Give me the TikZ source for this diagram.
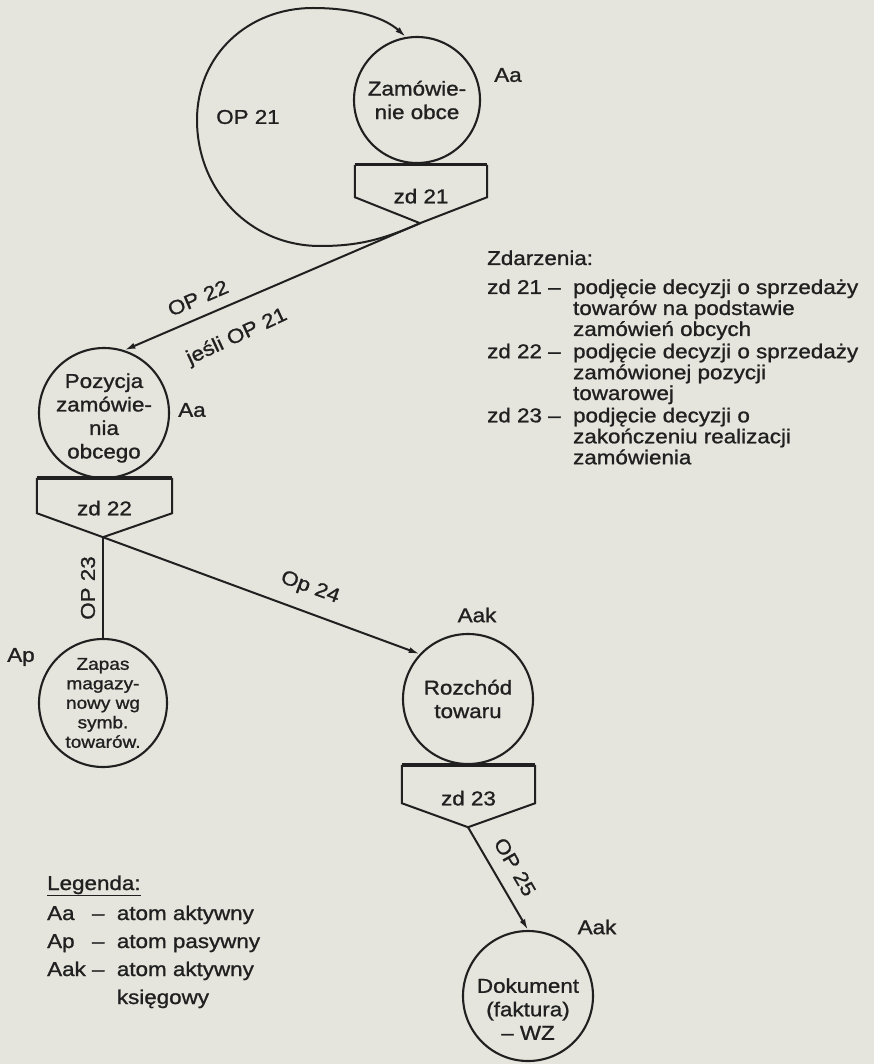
\documentclass[tikz,border=0pt]{standalone}
\usepackage{fontspec}
\setmainfont[FakeStretch=1.12,FakeBold=1.1]{Liberation Sans}
\usetikzlibrary{arrows.meta,calc}
\definecolor{paper}{RGB}{229,229,221}
\definecolor{ink}{RGB}{32,32,32}

\begin{document}
\begin{tikzpicture}[x=1pt,y=-1pt,
  every node/.style={text=ink, font=\fontsize{20}{23.5}\selectfont},
  atom/.style={circle, draw=ink, line width=2.1pt, minimum size=#1, inner sep=0pt, align=center},
  atom/.default=130pt,
  evbox/.style={inner sep=0pt},
  edge/.style={draw=ink, line width=2pt},
  arr/.style={edge, -{Latex[length=11pt,width=6pt]}},
  boxline/.style={draw=ink, line width=2pt, line join=miter},
  topline/.style={draw=ink, line width=3.4pt},
  small/.style={font=\fontsize{17}{19.5}\selectfont},
]
% paper
\fill[paper] (0,0) rectangle (874,1064);
\useasboundingbox (0,0) rectangle (874,1064);

% ---------- atoms ----------
\node[atom=126pt] (z1) at (417,100) {Zamówie-\\nie obce};
\node[atom] (poz) at (104,413) {};
\node[align=center] at (104,418) {Pozycja\\zamówie-\\nia\\obcego};
\node[atom=128pt, small] (zap) at (103,703) {Zapas\\magazy-\\nowy wg\\symb.\\towarów.};
\node[atom] (roz) at (468,699) {Rozchód\\towaru};
\node[atom] (dok) at (528,996) {};
\node[align=center] at (528,1009) {Dokument\\(faktura)\\– WZ};

% ---------- event boxes ----------
\node[evbox, minimum width=132pt, minimum height=32pt] (zd21) at (421,181) {};
\coordinate (zd21tip) at ($(zd21.south)+(-1,26)$);
\draw[boxline] (zd21.north west) -- (zd21.south west) -- (zd21tip) -- (zd21.south east) -- (zd21.north east);
\draw[topline] (zd21.north west) -- (zd21.north east);
\node at ([yshift=1pt]zd21.south) {zd 21};

\node[evbox, minimum width=135pt, minimum height=35pt] (zd22) at (104.5,495.5) {};
\coordinate (zd22tip) at ($(zd22.south)+(-1.5,24)$);
\draw[boxline] (zd22.north west) -- (zd22.south west) -- (zd22tip) -- (zd22.south east) -- (zd22.north east);
\draw[topline] (zd22.north west) -- (zd22.north east);
\node at ([yshift=5pt]zd22.south) {zd 22};

\node[evbox, minimum width=133pt, minimum height=38pt] (zd23) at (468.5,784) {};
\coordinate (zd23tip) at ($(zd23.south)+(-0.5,24)$);
\draw[boxline] (zd23.north west) -- (zd23.south west) -- (zd23tip) -- (zd23.south east) -- (zd23.north east);
\draw[topline] (zd23.north west) -- (zd23.north east);
\node at ([yshift=5pt]zd23.south) {zd 23};

% ---------- connectors ----------
\draw[arr] (zd21tip) .. controls (380,241) and (355,246) .. (320,246)
  .. controls (250,246) and (197,190) .. (197,120)
  .. controls (197,55) and (248,8) .. (313,8)
  .. controls (358,8) and (386,19) .. (z1.100);
\draw[arr] (zd21tip) -- (poz.72);
\draw[edge] (zd22tip) -- (zap.north);
\draw[arr] (zd22tip) -- (roz.137);
\draw[arr] (zd23tip) -- (dok.north);

% ---------- connector labels ----------
\node at (248,117) {OP 21};
\node[rotate=23] at (198,298) {OP 22};
\node[rotate=25] at (237,337) {jeśli OP 21};
\node[rotate=90] at (88,588) {OP 23};
\node[rotate=-20] at (310,588) {Op 24};
\node[rotate=-60] at (515,867) {OP 25};

% ---------- atom types ----------
\node at (508,75) {Aa};
\node at (192,410) {Aa};
\node at (21,657) {Ap};
\node at (477,615) {Aak};
\node at (597,927) {Aak};

% ---------- list of events ----------
\newcommand{\gapcol}{\multicolumn{1}{@{}l@{\hphantom{\ – \ }}}{}}
\node[anchor=base west, inner sep=0pt, font=\fontsize{20}{20.8}\selectfont] (events) at (487,265) {%
\begin{tabular}[t]{@{}l@{\ – \ }l@{}}
\multicolumn{2}{@{}l}{Zdarzenia:}\\[8.2pt]
zd 21 & podjęcie decyzji o sprzedaży\\
\gapcol & towarów na podstawie\\
\gapcol & zamówień obcych\\[1.5pt]
zd 22 & podjęcie decyzji o sprzedaży\\
\gapcol & zamówionej pozycji\\
\gapcol & towarowej\\[1.5pt]
zd 23 & podjęcie decyzji o\\
\gapcol & zakończeniu realizacji\\
\gapcol & zamówienia
\end{tabular}};

% ---------- legend ----------
\node[anchor=base west, inner sep=0pt, font=\fontsize{20}{28}\selectfont] (legend) at (47,890) {%
\begin{tabular}[t]{@{}l@{\ – \ }l@{}}
\multicolumn{2}{@{}l}{\underline{Legenda:}}\\[2pt]
Aa & atom aktywny\\
Ap & atom pasywny\\
Aak & atom aktywny\\
\gapcol & księgowy
\end{tabular}};
\end{tikzpicture}
\end{document}
